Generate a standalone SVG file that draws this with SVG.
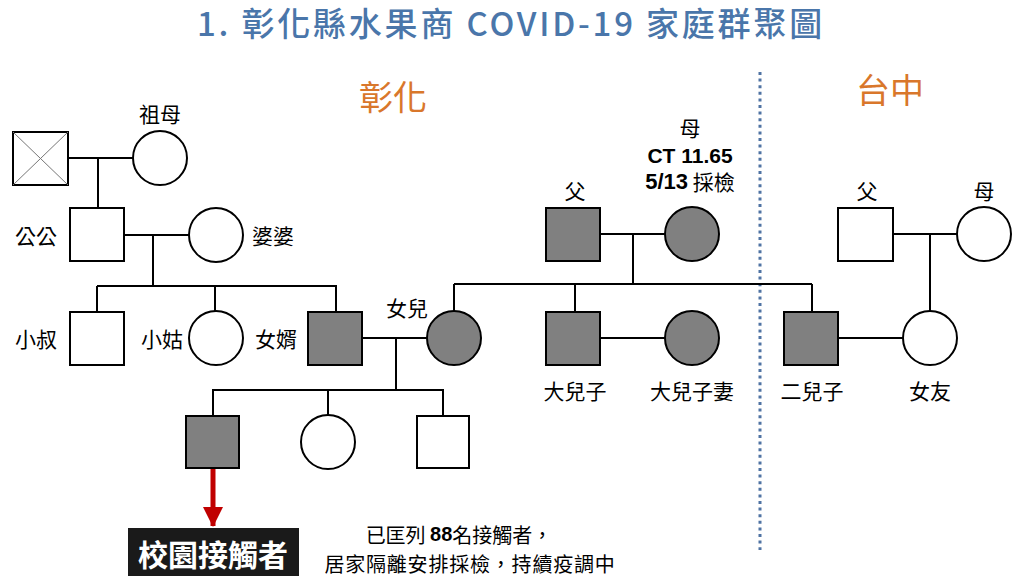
<svg xmlns="http://www.w3.org/2000/svg" width="1024" height="576" viewBox="0 0 1024 576">
<style>
text{font-family:"Noto Sans CJK TC","Liberation Sans",sans-serif;fill:#000;}
.lbl{font-size:21px;text-anchor:middle;dominant-baseline:central;}
.note{font-size:20px;text-anchor:middle;dominant-baseline:central;}
.bold{font-family:"Liberation Sans","Noto Sans CJK TC",sans-serif;font-weight:bold;}
.n{stroke:#000;stroke-width:2;fill:#fff;}
.a{stroke:#000;stroke-width:2;fill:#808080;}
.ln{stroke:#000;stroke-width:2;fill:none;}
.region{font-size:34px;fill:#D9772B;text-anchor:middle;dominant-baseline:central;}
</style>
<defs>
<marker id="redArrow" markerWidth="4" markerHeight="4" refX="3.8" refY="2" orient="auto" markerUnits="strokeWidth">
<path d="M0,0 L4,2 L0,4 Z" fill="#C00000"/>
</marker>
</defs>
<rect width="1024" height="576" fill="#fff"/>
<text x="511" y="22" font-size="33" font-weight="500" fill="#4A76AA" style="fill:#4A76AA;letter-spacing:2.8px" text-anchor="middle" dominant-baseline="central">1. 彰化縣水果商 COVID-19 家庭群聚圖</text>
<text class="region" x="393" y="95">彰化</text>
<text class="region" x="890" y="88">台中</text>
<line x1="760" y1="72" x2="760" y2="550" stroke="#4F73A3" stroke-width="3" stroke-dasharray="3 3.6"/>
<g id="connectors">
<path class="ln" d="M68,158 H133 M98,158 V208"/>
<path class="ln" d="M124,235 H189 M153,235 V286 M97,286 H337 M97,286 V312 M215,286 V311 M336,286 V312"/>
<path class="ln" d="M362,338 H427 M396,338 V390 M212,390 H444 M213,390 V416 M328,390 V415 M443,390 V416"/>
<path class="ln" d="M600,234 H665 M633,234 V284 M454,284 H812 M454,284 V311 M575,284 V312 M812,284 V312"/>
<path class="ln" d="M600,338 H665"/>
<path class="ln" d="M893,234 H957 M930,234 V311 M838,338 H903"/>
<line x1="213" y1="468" x2="213" y2="526" stroke="#C00000" stroke-width="5" marker-end="url(#redArrow)"/>
</g>
<g id="grandfather"><rect class="n" x="13" y="132" width="55" height="53"/><path d="M13,132 L68,185 M68,132 L13,185" stroke="#777" stroke-width="1"/></g>
<g id="grandmother"><circle class="n" cx="160" cy="158" r="27"/><text class="lbl" x="160" y="113">祖母</text></g>
<g id="gonggong"><rect class="n" x="70" y="208" width="54" height="53"/><text class="lbl" x="36" y="235">公公</text></g>
<g id="popo"><circle class="n" cx="216" cy="235" r="27"/><text class="lbl" x="273" y="235">婆婆</text></g>
<g id="xiaoshu"><rect class="n" x="70" y="312" width="54" height="53"/><text class="lbl" x="36" y="338">小叔</text></g>
<g id="xiaogu"><circle class="n" cx="216" cy="338" r="27"/><text class="lbl" x="162" y="338">小姑</text></g>
<g id="nvxu"><rect class="a" x="308" y="312" width="54" height="53"/><text class="lbl" x="276" y="338">女婿</text></g>
<g id="nver"><circle class="a" cx="454" cy="338" r="27"/><text class="lbl" x="407" y="307">女兒</text></g>
<g id="father"><rect class="a" x="546" y="208" width="54" height="53"/><text class="lbl" x="575" y="190">父</text></g>
<g id="mother"><circle class="a" cx="692" cy="234" r="27"/><text class="lbl" x="690" y="127">母</text><text class="lbl bold" x="690" y="155" font-size="22">CT 11.65</text><text class="lbl" x="690" y="181"><tspan class="bold" font-size="22">5/13</tspan> 採檢</text></g>
<g id="eldest-son"><rect class="a" x="546" y="312" width="54" height="53"/><text class="lbl" x="575" y="390">大兒子</text></g>
<g id="eldest-son-wife"><circle class="a" cx="692" cy="338" r="27"/><text class="lbl" x="692" y="390">大兒子妻</text></g>
<g id="second-son"><rect class="a" x="784" y="312" width="54" height="53"/><text class="lbl" x="812" y="390">二兒子</text></g>
<g id="girlfriend"><circle class="n" cx="930" cy="338" r="27"/><text class="lbl" x="930" y="390">女友</text></g>
<g id="gf-father"><rect class="n" x="838" y="208" width="55" height="53"/><text class="lbl" x="867" y="190">父</text></g>
<g id="gf-mother"><circle class="n" cx="984" cy="234" r="27"/><text class="lbl" x="984" y="190">母</text></g>
<g id="child1"><rect class="a" x="186" y="416" width="53" height="52"/></g>
<g id="child2"><circle class="n" cx="328" cy="442" r="27"/></g>
<g id="child3"><rect class="n" x="417" y="416" width="52" height="52"/></g>
<g id="campus"><rect x="128" y="528" width="171" height="48" fill="#1a1a1a"/><text x="213" y="553" font-size="30" font-weight="bold" style="fill:#fff" text-anchor="middle" dominant-baseline="central">校園接觸者</text></g>
<g id="note"><text class="note" x="459" y="534">已匡列 <tspan class="bold">88</tspan>名接觸者，</text><text class="note" x="470" y="563" style="letter-spacing:0.8px">居家隔離安排採檢，持續疫調中</text></g>
</svg>
